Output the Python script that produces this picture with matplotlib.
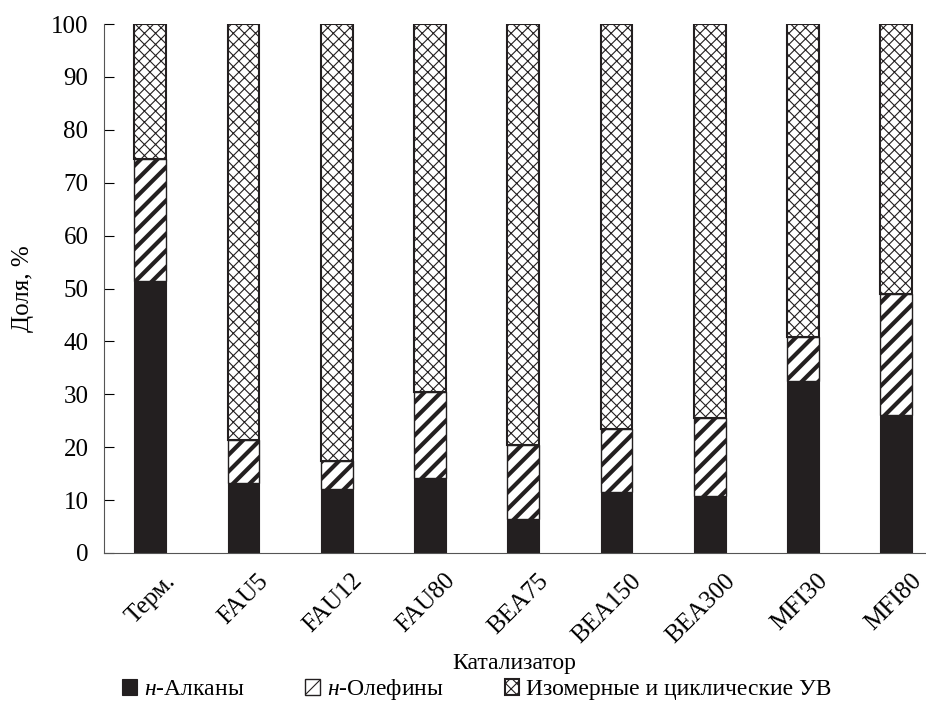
import numpy as np
import matplotlib
matplotlib.use('Agg')
import matplotlib.pyplot as plt

plt.rcParams['font.family'] = ['Liberation Serif', 'DejaVu Serif']
plt.rcParams['mathtext.fontset'] = 'custom'
plt.rcParams['mathtext.it'] = 'Liberation Serif:italic'
plt.rcParams['mathtext.rm'] = 'Liberation Serif'

katalizatory = ['Терм.', 'FAU5', 'FAU12', 'FAU80', 'BEA75', 'BEA150', 'BEA300', 'MFI30', 'MFI80']
alkany = np.array([51.5, 13.3, 12.0, 14.2, 6.5, 11.5, 10.8, 32.6, 26.0])
olefiny = np.array([23.0, 8.0, 5.4, 16.3, 14.0, 12.0, 14.8, 8.3, 23.0])
izomery = 100 - alkany - olefiny

x = np.arange(len(katalizatory))
w = 0.34
dark = '#231f20'
fs = 18

fig, ax = plt.subplots(figsize=(9.26, 7.08), dpi=100)
fig.subplots_adjust(left=0.112, right=0.999, top=0.966, bottom=0.219)

b1 = ax.bar(x, alkany, w, color=dark, edgecolor=dark, linewidth=0.8, label=r'$\it{н}$-Алканы')
plt.rcParams['hatch.linewidth'] = 3.0
b2 = ax.bar(x, olefiny, w, bottom=alkany, color='white', edgecolor=dark, hatch='//',
            linewidth=1.0, label=r'$\it{н}$-Олефины')
plt.rcParams['hatch.linewidth'] = 0.8
b3 = ax.bar(x, izomery, w, bottom=alkany + olefiny, color='white', edgecolor=dark, hatch='xxx',
            linewidth=1.5, label='Изомерные и циклические УВ')

ax.set_ylim(0, 100)
ax.set_xlim(-0.5, 8.31)
ax.set_yticks(np.arange(0, 101, 10))
# labels sit a bit to the right of the bar centres in the original
ax.set_xticks(x + 0.15)
ax.set_xticklabels(katalizatory, rotation=45, ha='right', rotation_mode='anchor')
ax.tick_params(axis='y', direction='in', length=7, labelsize=fs, pad=11)
ax.tick_params(axis='x', length=0, labelsize=fs, pad=12)
ax.spines['top'].set_visible(False)
ax.spines['right'].set_visible(False)
for s in ('left', 'bottom'):
    ax.spines[s].set_color('#555555')
ax.set_ylabel('Доля, %', fontsize=fs, labelpad=12)
ax.set_xlabel('Катализатор', fontsize=17, labelpad=4)

fig.legend(handles=[b1, b2, b3], loc='lower center', ncol=3, frameon=False, fontsize=17,
           bbox_to_anchor=(0.515, -0.022), columnspacing=2.6, handlelength=0.6, handleheight=0.7,
           handletextpad=0.3)

plt.savefig('out.png', dpi=100)
